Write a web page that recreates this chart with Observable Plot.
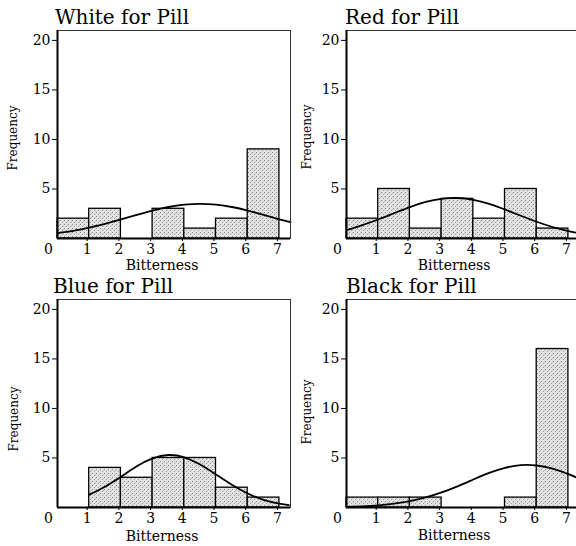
<!DOCTYPE html>
<html>
<head>
<meta charset="utf-8">
<script src="https://cdn.jsdelivr.net/npm/d3@7"></script>
<script src="https://cdn.jsdelivr.net/npm/@observablehq/plot@0.6"></script>
<style>
  html, body { margin: 0; padding: 0; background: #fff; }
  #wrap { position: relative; width: 576px; height: 546px; overflow: hidden; background: #fff; }
  .panel { position: absolute; }
  .title { position: absolute; font-family: "DejaVu Serif"; font-size: 20px; line-height: normal; white-space: nowrap; color: #000; }
  .xlab { position: absolute; font-family: "DejaVu Serif"; font-size: 14px; line-height: 14px; white-space: nowrap; transform: translateX(-50%); color: #000; }
  .ylab { position: absolute; font-family: "DejaVu Serif"; font-size: 12px; line-height: normal; white-space: nowrap; transform: translate(-50%, -50%) rotate(-90deg); color: #000; }
</style>
</head>
<body>
<svg width="0" height="0" style="position:absolute">
  <defs>
    <pattern id="stip" width="4" height="4" patternUnits="userSpaceOnUse">
      <rect width="4" height="4" fill="#e2e2e2"/>
      <rect x="0" y="0" width="1" height="1" fill="#8a8a8a"/>
      <rect x="2" y="2" width="1" height="1" fill="#a0a0a0"/>
      <rect x="3" y="1" width="1" height="1" fill="#c0c0c0"/>
    </pattern>
  </defs>
</svg>
<div id="wrap"></div>
<script>
// ---- data ----
const titles = ["White for Pill", "Red for Pill", "Blue for Pill", "Black for Pill"];
const xTicks = [0, 1, 2, 3, 4, 5, 6, 7];
const yTicks = [5, 10, 15, 20];
const binStarts = [0, 1, 2, 3, 4, 5, 6];

const whiteCounts = [2, 3, 0, 3, 1, 2, 9];
const redCounts   = [2, 5, 1, 4, 2, 5, 1];
const blueCounts  = [0, 4, 3, 5, 5, 2, 1];
const blackCounts = [1, 1, 1, 0, 0, 1, 16];

const whiteCurveX = [0, 0.5, 1, 1.5, 2, 2.5, 3, 3.5, 4, 4.5, 5, 5.5, 6, 6.5, 7, 7.35];
const whiteCurveY = [0.55, 0.78, 1.1, 1.47, 1.92, 2.38, 2.82, 3.18, 3.42, 3.5, 3.42, 3.18, 2.82, 2.38, 1.92, 1.65];
const redCurveX   = [0.05, 0.5, 1, 1.5, 2, 2.5, 3, 3.5, 4, 4.5, 5, 5.5, 6, 6.5, 7, 7.35];
const redCurveY   = [0.9, 1.36, 1.92, 2.55, 3.17, 3.69, 4.01, 4.09, 3.91, 3.5, 2.93, 2.3, 1.69, 1.16, 0.75, 0.53];
const blueCurveX  = [1, 1.5, 2, 2.5, 3, 3.5, 4, 4.5, 5, 5.5, 6, 6.5, 7, 7.3];
const blueCurveY  = [1.3, 2.1, 3.1, 4.16, 4.96, 5.3, 5.07, 4.34, 3.33, 2.29, 1.41, 0.78, 0.38, 0.23];
const blackCurveX = [0, 0.5, 1, 1.5, 2, 2.5, 3, 3.5, 4, 4.5, 5, 5.5, 6, 6.5, 7, 7.35];
const blackCurveY = [0.05, 0.12, 0.22, 0.4, 0.65, 1.02, 1.52, 2.14, 2.83, 3.49, 4.0, 4.28, 4.24, 3.92, 3.37, 2.9];

const panels = [
  {counts: whiteCounts, cx: whiteCurveX, cy: whiteCurveY, left: 0,   top: 0,   titleX: 55,  titleBase: 24,  xlabX: 162, xlabBase: 270, ylabX: 13,  ylabY: 138},
  {counts: redCounts,   cx: redCurveX,   cy: redCurveY,   left: 289, top: 0,   titleX: 345, titleBase: 24,  xlabX: 454, xlabBase: 270, ylabX: 307, ylabY: 137},
  {counts: blueCounts,  cx: blueCurveX,  cy: blueCurveY,  left: 0,   top: 269, titleX: 53,  titleBase: 293, xlabX: 162, xlabBase: 541, ylabX: 14,  ylabY: 419},
  {counts: blackCounts, cx: blackCurveX, cy: blackCurveY, left: 289, top: 269, titleX: 346, titleBase: 293, xlabX: 454, xlabBase: 540, ylabX: 307, ylabY: 412}
];

const wrap = document.getElementById("wrap");

panels.forEach((p, k) => {
  const bars = binStarts.map((x, i) => ({x1: x, x2: x + 1, y: p.counts[i]})).filter(d => d.y > 0);
  const curve = p.cx.map((x, i) => ({x, y: p.cy[i]}));
  const svg = Plot.plot({
    width: 292,
    height: 272,
    marginLeft: 57,
    marginRight: 2,
    marginTop: 30,
    marginBottom: 34,
    x: {domain: [0, 7.35]},
    y: {domain: [0, 21]},
    style: {fontFamily: "DejaVu Serif", fontSize: "14px", color: "#000", background: "transparent", overflow: "visible"},
    marks: [
      Plot.rectY(bars, {x1: "x1", x2: "x2", y: "y", inset: 0, fill: "url(#stip)", stroke: "#000", strokeWidth: 1.3}),
      Plot.line(curve, {x: "x", y: "y", curve: "natural", stroke: "#000", strokeWidth: 1.8}),
      Plot.frame({stroke: "#333", strokeWidth: 1}),
      Plot.ruleY([0], {stroke: "#000", strokeWidth: 2}),
      Plot.ruleX([0], {stroke: "#000", strokeWidth: 2}),
      Plot.axisX(xTicks.slice(1), {tickSize: 3, tickPadding: 3, dx: -2, label: null, stroke: "#000", fill: "#000"}),
      Plot.axisX([xTicks[0]], {tickSize: 0, tickPadding: 6, dx: -9, label: null, fill: "#000"}),
      Plot.axisY(yTicks, {tickSize: 5, tickPadding: 2, label: null, stroke: "#000", fill: "#000"})
    ]
  });
  svg.classList.add("panel");
  svg.style.left = p.left + "px";
  svg.style.top = p.top + "px";
  svg.style.position = "absolute";
  wrap.appendChild(svg);

  const t = document.createElement("div");
  t.className = "title";
  t.textContent = titles[k];
  t.style.left = p.titleX + "px";
  t.style.top = (p.titleBase - 0.928 * 20) + "px";
  wrap.appendChild(t);

  const xl = document.createElement("div");
  xl.className = "xlab";
  xl.textContent = "Bitterness";
  xl.style.left = p.xlabX + "px";
  xl.style.top = (p.xlabBase - 11.9) + "px";
  wrap.appendChild(xl);

  const yl = document.createElement("div");
  yl.className = "ylab";
  yl.textContent = "Frequency";
  yl.style.left = p.ylabX + "px";
  yl.style.top = p.ylabY + "px";
  wrap.appendChild(yl);
});
</script>
</body>
</html>
